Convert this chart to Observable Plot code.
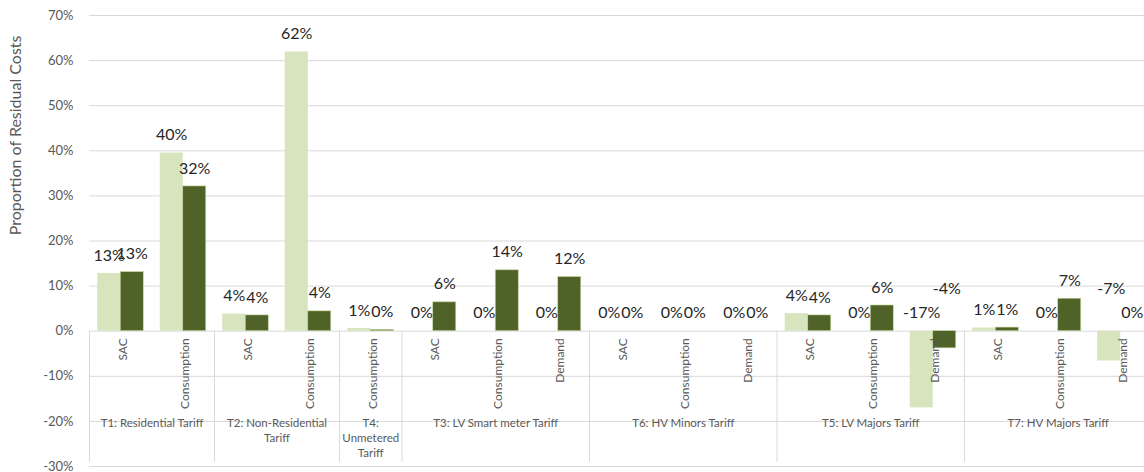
<!DOCTYPE html>
<html><head><meta charset="utf-8">
<script src="https://cdn.jsdelivr.net/npm/d3@7"></script>
<script src="https://cdn.jsdelivr.net/npm/@observablehq/plot@0.6"></script>
<style>body{margin:0;background:#fff;}</style>
</head><body><div id="chart"></div>
<script>
// ---- data ----
const groupNames = ["T1: Residential Tariff", "T2: Non-Residential\nTariff", "T4:\nUnmetered\nTariff", "T3: LV Smart meter Tariff", "T6: HV Minors Tariff", "T5: LV Majors Tariff", "T7: HV Majors Tariff"];
const groupParts = [["SAC", "Consumption"], ["SAC", "Consumption"], ["Consumption"], ["SAC", "Consumption", "Demand"], ["SAC", "Consumption", "Demand"], ["SAC", "Consumption", "Demand"], ["SAC", "Consumption", "Demand"]];
const seriesLight = [12.8, 39.5, 3.8, 61.9, 0.6, 0, 0, 0, 0, 0, 0, 3.9, 0, -17.0, 0.7, 0, -6.6];
const seriesDark  = [13.1, 32.1, 3.5, 4.4, 0.3, 6.4, 13.5, 12.0, 0, 0, 0, 3.5, 5.7, -3.8, 0.8, 7.2, 0];
const yTicks = [-30, -20, -10, 0, 10, 20, 30, 40, 50, 60, 70];

// ---- build table ----
const rows = [];
const groups = [];
groupNames.forEach((g, gi) => {
  const keys = [];
  groupParts[gi].forEach(p => {
    const i = rows.length;
    const key = g + "|" + p;
    keys.push(key);
    rows.push({key, group: g, part: p, light: seriesLight[i], dark: seriesDark[i]});
  });
  groups.push({name: g, keys});
});

const W = 1144, H = 472, ML = 89, MR = -7.5, MT = 15, MB = 6;
const step = (W - MR - ML) / rows.length;
const barW = 23;
const outer = (step - 2 * barW) / 2;
const fmt = v => { const r = Math.round(v); return (r === 0 ? 0 : r) + "%"; };
const gray = "#d9d9d9", txt = "#595959", lightC = "#d7e4bd", darkC = "#4f6228";

const labelMarks = [];
[["light", -(barW / 2)], ["dark", barW / 2]].forEach(([s, off]) => {
  labelMarks.push(Plot.text(rows.filter(d => !(d[s] < 0 && d[s] > -10)), {
    x: "key", y: d => Math.max(d[s], 0), text: d => fmt(d[s]),
    dx: off, dy: -18, fontSize: 16, fill: "#262626"
  }));
  labelMarks.push(Plot.text(rows.filter(d => d[s] < 0 && d[s] > -10), {
    x: "key", y: () => 0, text: d => fmt(d[s]),
    dx: off + 2, dy: -42, fontSize: 16, fill: "#262626"
  }));
});

const groupLabelMarks = groups.map(g => Plot.text([g], {
  x: () => g.keys[0], y: () => -20, text: d => d.name,
  dx: (g.keys.length - 1) * step / 2, dy: -5, lineAnchor: "top", lineHeight: 1.3,
  fontSize: 11.5, fill: txt
}));

const chart = Plot.plot({
  width: W, height: H,
  marginLeft: ML, marginRight: MR, marginTop: MT, marginBottom: MB,
  style: {fontFamily: "Lato, 'Open Sans', sans-serif", background: "#fff"},
  x: {type: "band", domain: rows.map(d => d.key), padding: 0, round: false, axis: null},
  y: {domain: [-30, 70], axis: null},
  marks: [
    Plot.gridY(yTicks, {stroke: gray, strokeOpacity: 1}),
    Plot.axisY(yTicks, {tickSize: 0, tickPadding: 16, tickFormat: d => d + "%", fontSize: 13, fill: txt, label: null}),
    Plot.ruleX(groups, {x: g => g.keys[0], y1: () => 0, y2: () => -30, dx: -step / 2, insetBottom: 4, stroke: gray}),
    Plot.barY(rows, {x: "key", y: "light", fill: lightC, insetLeft: outer, insetRight: outer + barW}),
    Plot.barY(rows, {x: "key", y: "dark", fill: darkC, stroke: "#c4d79b", strokeWidth: 0.6, insetLeft: outer + barW, insetRight: outer}),
    ...labelMarks,
    Plot.text(rows, {x: "key", y: () => 0, text: "part", rotate: -90, textAnchor: "end", dy: 7, dx: 2, fontSize: 12, fill: txt}),
    ...groupLabelMarks,
    Plot.text(["Proportion of Residual Costs"], {frameAnchor: "top-left", rotate: -90, textAnchor: "end", lineAnchor: "middle", dx: -74, dy: 20, fontSize: 16, fill: txt})
  ]
});
document.getElementById("chart").appendChild(chart);
</script>
</body></html>
